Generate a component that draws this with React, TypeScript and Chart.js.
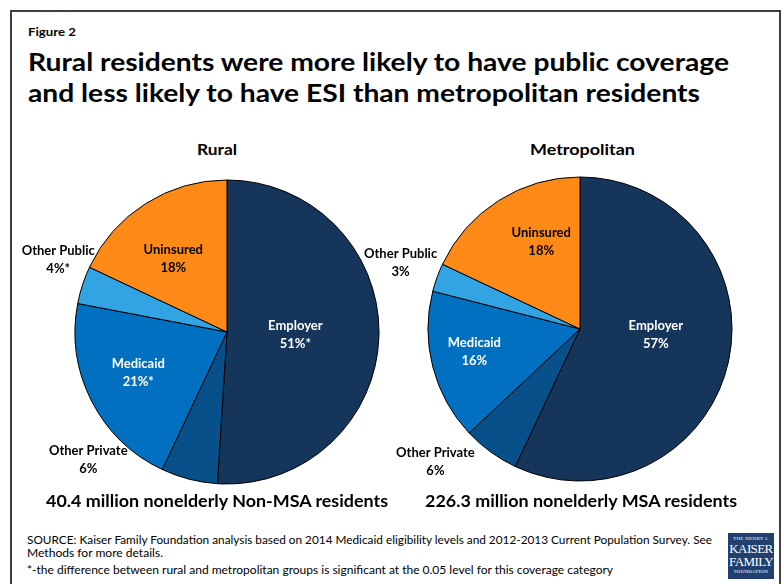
import React, { useEffect, useLayoutEffect, useRef } from "react";
import { Chart, registerables } from "chart.js";

Chart.register(...registerables);

// ---------- data ----------
const categories = ["Employer", "Other Private", "Medicaid", "Other Public", "Uninsured"];
const ruralValues = [51, 6, 21, 4, 18];
const metroValues = [57, 6, 16, 3, 18];
const ruralPctLabels = ["51%*", "6%", "21%*", "4%*", "18%"];
const metroPctLabels = ["57%", "6%", "16%", "3%", "18%"];
const pieTitles = ["Rural", "Metropolitan"];
const pieCaptions = ["40.4 million nonelderly Non-MSA residents", "226.3 million nonelderly MSA residents"];
const titleLines = [
  "Rural residents were more likely to have public coverage",
  "and less likely to have ESI than metropolitan residents",
];
const sourceLines = [
  "SOURCE: Kaiser Family Foundation analysis based on 2014 Medicaid eligibility levels and 2012-2013 Current Population Survey. See",
  "Methods for more details.",
  "*-the difference between rural and metropolitan groups is significant at the 0.05 level for this coverage category",
];

// ---------- styles ----------
const FONT = "Lato, 'Open Sans', sans-serif";
const sliceColors = ["#15355A", "#07508A", "#0270C0", "#33A4E3", "#FD8A16"];
const labelColors = ["#FFFFFF", "#000000", "#FFFFFF", "#000000", "#000000"];
const LABEL_SIZE = 13;
const LABEL_SX = 1;
// label placement: [angle in degrees clockwise from 12 o'clock, distance as fraction of radius]
const ruralLabelPos = [[91.7, 0.45], [227.4, 1.24], [245.8, 0.64], [293.4, 1.21], [323.9, 0.6]];
const metroLabelPos = [[93.8, 0.5], [227.5, 1.29], [258.2, 0.71], [290.5, 1.26], [336.1, 0.63]];

function drawScaled(ctx: CanvasRenderingContext2D, t: string, x: number, y: number) {
  ctx.save();
  ctx.translate(x, y);
  ctx.scale(LABEL_SX, 1);
  ctx.fillText(t, 0, 0);
  ctx.restore();
}

function labelPlugin(pcts: string[], pos: number[][]) {
  return {
    id: "sliceLabels",
    afterDatasetsDraw(chart: any) {
      const ctx = chart.ctx as CanvasRenderingContext2D;
      const meta = chart.getDatasetMeta(0);
      meta.data.forEach((arc: any, i: number) => {
        const { x, y, outerRadius } = arc.getProps(["x", "y", "outerRadius"], true);
        const [deg, f] = pos[i];
        const a = ((deg - 90) * Math.PI) / 180;
        const px = x + Math.cos(a) * f * outerRadius;
        const py = y + Math.sin(a) * f * outerRadius;
        ctx.save();
        ctx.font = `bold ${LABEL_SIZE}px ${FONT}`;
        ctx.fillStyle = labelColors[i];
        ctx.textAlign = "center";
        ctx.textBaseline = "alphabetic";
        drawScaled(ctx, categories[i], px, py - 9 + 4.7);
        drawScaled(ctx, pcts[i], px, py + 9 + 4.7);
        ctx.restore();
      });
    },
  };
}

function Pie(props: {
  values: number[];
  pcts: string[];
  pos: number[][];
  left: number;
  top: number;
  width: number;
  height: number;
  padding: { left: number; right: number; top: number; bottom: number };
}) {
  const ref = useRef<HTMLCanvasElement>(null);
  useEffect(() => {
    if (!ref.current) return;
    const chart = new Chart(ref.current, {
      type: "pie",
      data: {
        labels: categories,
        datasets: [
          {
            data: props.values,
            backgroundColor: sliceColors,
            borderColor: "#000000",
            borderWidth: 1,
            radius: 152,
          } as any,
        ],
      },
      options: {
        animation: false,
        responsive: false,
        maintainAspectRatio: false,
        events: [],
        layout: { padding: props.padding },
        plugins: { legend: { display: false }, tooltip: { enabled: false } },
      },
      plugins: [labelPlugin(props.pcts, props.pos)],
    });
    return () => chart.destroy();
  }, []);
  return (
    <canvas
      ref={ref}
      width={props.width}
      height={props.height}
      style={{ position: "absolute", left: props.left, top: props.top, width: props.width, height: props.height }}
    />
  );
}

function FitText(props: {
  text: string;
  x: number;
  width: number;
  baseline: number;
  size: number;
  bold?: boolean;
  center?: boolean;
}) {
  const ref = useRef<HTMLSpanElement>(null);
  useLayoutEffect(() => {
    const el = ref.current;
    if (!el) return;
    el.style.transform = "none";
    const w = el.getBoundingClientRect().width;
    if (w > 0) el.style.transform = `scaleX(${props.width / w})`;
  }, [props.text, props.width]);
  const left = props.center ? props.x - props.width / 2 : props.x;
  return (
    <span
      ref={ref}
      style={{
        position: "absolute",
        left,
        top: props.baseline - 0.987 * props.size,
        fontFamily: FONT,
        fontSize: props.size,
        lineHeight: `${props.size * 1.2}px`,
        fontWeight: props.bold ? 700 : 400,
        whiteSpace: "nowrap",
        transformOrigin: "0 0",
        color: "#000",
      }}
    >
      {props.text}
    </span>
  );
}

export default function App() {
  return (
    <div
      style={{
        position: "absolute",
        left: 0,
        top: 0,
        width: 784,
        height: 584,
        overflow: "hidden",
        background: "#fff",
      }}
    >
      <div
        style={{
          position: "absolute",
          left: 10,
          top: 10,
          width: 767,
          height: 620,
          border: "2px solid #404040",
        }}
      />
      <FitText text="Figure 2" x={28} width={48} baseline={37} size={12} bold />
      <FitText text={titleLines[0]} x={28} width={701} baseline={71} size={25} bold />
      <FitText text={titleLines[1]} x={28} width={672} baseline={102} size={25} bold />
      <FitText text={pieTitles[0]} x={217} width={40} baseline={155} size={16} bold center />
      <FitText text={pieTitles[1]} x={582} width={105} baseline={155} size={16} bold center />

      <Pie
        values={ruralValues}
        pcts={ruralPctLabels}
        pos={ruralLabelPos}
        left={12}
        top={160}
        width={380}
        height={345}
        padding={{ left: 50, right: 0, top: 0, bottom: 1 }}
      />
      <Pie
        values={metroValues}
        pcts={metroPctLabels}
        pos={metroLabelPos}
        left={350}
        top={160}
        width={428}
        height={345}
        padding={{ left: 32, right: 0, top: 0, bottom: 7 }}
      />

      <FitText text={pieCaptions[0]} x={46} width={342} baseline={508} size={17} bold />
      <FitText text={pieCaptions[1]} x={425} width={312} baseline={508} size={17} bold />

      <FitText text={sourceLines[0]} x={27} width={685} baseline={544} size={11} />
      <FitText text={sourceLines[1]} x={27} width={136} baseline={557} size={11} />
      <FitText text={sourceLines[2]} x={27} width={586} baseline={574} size={11} />

      <div
        style={{
          position: "absolute",
          left: 728,
          top: 533,
          width: 46,
          height: 46,
          background: "#22406F",
          color: "#fff",
          fontFamily: "'Liberation Serif', 'DejaVu Serif', serif",
          textAlign: "center",
          overflow: "hidden",
        }}
      >
        <div style={{ fontSize: 5, lineHeight: "7px", marginTop: 2, letterSpacing: 0.3 }}>THE HENRY J.</div>
        <div style={{ fontSize: 13, lineHeight: "13px", letterSpacing: -0.6 }}>KAISER</div>
        <div style={{ fontSize: 13, lineHeight: "13px", letterSpacing: -0.6 }}>FAMILY</div>
        <div style={{ fontSize: 5, lineHeight: "8px", letterSpacing: 0.2 }}>FOUNDATION</div>
      </div>
    </div>
  );
}
